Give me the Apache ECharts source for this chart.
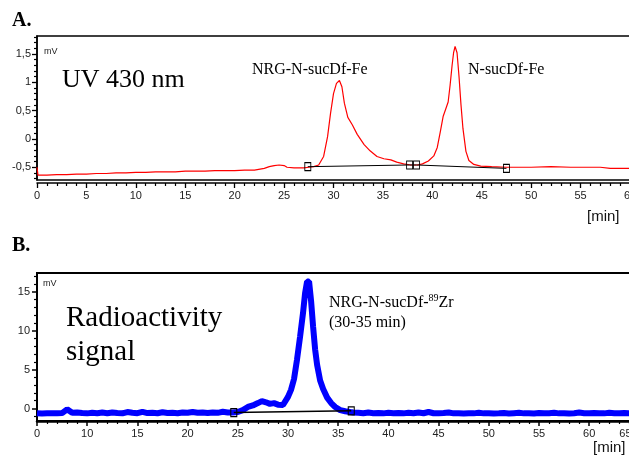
<!DOCTYPE html>
<html><head><meta charset="utf-8">
<script src="https://cdn.jsdelivr.net/npm/echarts@6/dist/echarts.min.js"></script>
<style>html,body{margin:0;padding:0;background:#fff}#c{width:629px;height:456px}</style>
</head><body><div id="c"></div><script>
// ---- Panel A: UV 430 nm trace (time in min, signal in mV) ----
const uvTime = [0,0.1,1,2,3,4,5,6,7,8,9,10,11,12,13,14,15,16,17,18,19,20,21,22,22.2,23,23.5,24,24.5,25,25.3,26,27,27.5,28,28.5,29,29.4,29.7,30.0,30.3,30.6,30.85,31.1,31.45,31.9,32.4,33.1,33.7,34.4,35.1,35.8,36.4,37.1,37.8,38.5,39.0,39.6,40.15,40.5,40.8,41.1,41.4,41.6,41.8,42.0,42.15,42.3,42.5,42.7,42.9,43.1,43.4,43.7,44.2,44.9,46,47.5,50,52,54,55,57,58,59,60];
const uvSignal = [-0.5,-0.64,-0.64,-0.63,-0.63,-0.62,-0.62,-0.61,-0.61,-0.6,-0.6,-0.59,-0.59,-0.58,-0.58,-0.58,-0.57,-0.57,-0.57,-0.56,-0.56,-0.56,-0.55,-0.55,-0.52,-0.52,-0.49,-0.47,-0.46,-0.47,-0.5,-0.51,-0.51,-0.5,-0.49,-0.46,-0.31,0.04,0.45,0.8,0.98,1.03,0.92,0.63,0.38,0.25,0.08,-0.1,-0.21,-0.31,-0.35,-0.37,-0.41,-0.44,-0.46,-0.46,-0.44,-0.39,-0.3,-0.15,0.12,0.4,0.55,0.65,0.95,1.3,1.52,1.63,1.52,1.1,0.6,0.18,-0.22,-0.38,-0.45,-0.48,-0.49,-0.5,-0.5,-0.49,-0.5,-0.5,-0.5,-0.52,-0.52,-0.52];
const uvBaseTime = [27.4, 37.7, 38.4, 47.5];
const uvBaseSignal = [-0.49, -0.46, -0.46, -0.52];
const uvYTicks = [-0.5, 0, 0.5, 1, 1.5];
const uvYMinorTicks = [-0.7,-0.6,-0.4,-0.3,-0.2,-0.1,0.1,0.2,0.3,0.4,0.6,0.7,0.8,0.9,1.1,1.2,1.3,1.4,1.6,1.7,1.8];

// ---- Panel B: radioactivity trace ----
const radTime = [5,5.5,6,6.5,7,7.5,8,8.5,9,9.5,10,10.5,11,11.5,12,12.5,13,13.5,14,14.5,15,15.5,16,16.5,17,17.5,18,18.5,19,19.5,20,20.5,21,21.5,22,22.5,23,23.5,24,24.5,
 25,25.5,26,26.5,27,27.4,27.8,28.2,28.6,29,29.5,30,30.3,30.6,30.9,31.2,31.5,31.7,31.9,32.1,32.3,32.5,32.7,32.9,33.2,33.5,33.9,34.3,34.7,35.2,35.7,36.2,36.5,
 37,37.5,38,38.5,39,39.5,40,40.5,41,41.5,42,42.5,43,43.5,44,44.5,45,45.5,46,46.5,47,47.5,48,48.5,49,49.5,50,50.5,51,51.5,52,52.5,53,53.5,54,54.5,55,55.5,56,56.5,57,57.5,58,58.5,59,59.5,60,60.5,61,61.5,62,62.5,63,63.5,64];
const radSignal = [-0.6,-0.65,-0.62,-0.6,-0.62,-0.58,-0.1,-0.55,-0.5,-0.58,-0.62,-0.55,-0.6,-0.52,-0.6,-0.5,-0.58,-0.62,-0.45,-0.55,-0.6,-0.42,-0.58,-0.55,-0.6,-0.48,-0.58,-0.55,-0.6,-0.5,-0.55,-0.45,-0.55,-0.5,-0.58,-0.5,-0.55,-0.42,-0.5,-0.5,
 -0.45,-0.2,0.2,0.4,0.7,0.95,0.8,0.6,0.7,0.5,0.45,1.5,2.4,3.8,6.3,9.2,12.3,14.8,16.3,16.3,13.8,10.5,7.6,5.6,3.6,2.5,1.4,0.7,0.2,-0.2,-0.35,-0.45,-0.5,
 -0.55,-0.6,-0.52,-0.6,-0.58,-0.62,-0.55,-0.6,-0.58,-0.62,-0.55,-0.6,-0.5,-0.6,-0.45,-0.6,-0.62,-0.58,-0.5,-0.62,-0.6,-0.65,-0.6,-0.62,-0.55,-0.62,-0.6,-0.65,-0.62,-0.58,-0.65,-0.6,-0.55,-0.62,-0.6,-0.65,-0.58,-0.62,-0.6,-0.55,-0.62,-0.6,-0.65,-0.6,-0.52,-0.6,-0.62,-0.58,-0.6,-0.62,-0.55,-0.6,-0.62,-0.58,-0.62];
const radBaseTime = [24.6, 36.3];
const radBaseSignal = [-0.52, -0.3];
const radYTicks = [0, 5, 10, 15];
const radYMinorTicks = [-1,1,2,3,4,6,7,8,9,11,12,13,14,16,17];

const zip = (a, b) => a.map((v, i) => [v, b[i]]);
const SANS = "'Liberation Sans', Arial, sans-serif";
const SERIF = "'Liberation Serif', 'Times New Roman', serif";
const labelCol = '#222';

const chart = echarts.init(document.getElementById('c'), null, {renderer: 'canvas'});
const baseLbl = {fontFamily: SANS, fontSize: 11, color: labelCol};

const option = {
  animation: false,
  backgroundColor: '#fff',
  grid: [
    {left: 37, top: 36, width: 593, height: 144, show: true, borderColor: '#000', borderWidth: 1.5, backgroundColor: 'transparent', outerBoundsMode: 'none', containLabel: false},
    {left: 37, top: 273, width: 602.4, height: 148, show: true, borderColor: '#000', borderWidth: 2, backgroundColor: 'transparent', outerBoundsMode: 'none', containLabel: false}
  ],
  xAxis: [
    {gridIndex: 0, type: 'value', min: 0, max: 60, interval: 5, offset: 3,
     axisLine: {onZero: false, lineStyle: {color: '#000', width: 1.5}},
     axisTick: {length: 5, lineStyle: {color: '#000', width: 1.3}},
     minorTick: {show: true, splitNumber: 5, length: 3, lineStyle: {color: '#000', width: 1.2}},
     axisLabel: Object.assign({margin: 7}, baseLbl),
     splitLine: {show: false}},
    {gridIndex: 1, type: 'value', min: 5, max: 65, interval: 5,
     axisLine: {onZero: false, lineStyle: {color: '#000', width: 2.5}},
     axisTick: {length: 5, lineStyle: {color: '#000', width: 1.5}},
     minorTick: {show: true, splitNumber: 5, length: 3, lineStyle: {color: '#000', width: 1.2}},
     axisLabel: Object.assign({margin: 7, formatter: v => v === 5 ? '0' : (v === 65 ? '{r|65}' : String(v)),
       rich: {r: {fontFamily: SANS, fontSize: 11, color: labelCol, padding: [0, 28, 0, 0]}}}, baseLbl),
     splitLine: {show: false}}
  ],
  yAxis: [
    {gridIndex: 0, type: 'value', min: -0.725, max: 1.815, position: 'left',
     axisLine: {show: true, onZero: false, lineStyle: {color: '#000', width: 1.5}},
     axisTick: {show: true, customValues: uvYTicks, length: 5, lineStyle: {color: '#000', width: 1.3}},
     axisLabel: Object.assign({customValues: uvYTicks, margin: 6, formatter: v => String(v).replace('.', ',')}, baseLbl),
     splitLine: {show: false}},
    {gridIndex: 0, type: 'value', min: -0.725, max: 1.815, position: 'left',
     axisLine: {show: false, onZero: false},
     axisTick: {show: true, customValues: uvYMinorTicks, length: 3, lineStyle: {color: '#000', width: 1.2}},
     axisLabel: {show: false}, splitLine: {show: false}},
    {gridIndex: 1, type: 'value', min: -1.6, max: 17.4, position: 'left',
     axisLine: {show: true, onZero: false, lineStyle: {color: '#000', width: 2}},
     axisTick: {show: true, customValues: radYTicks, length: 5, lineStyle: {color: '#000', width: 1.5}},
     axisLabel: Object.assign({customValues: radYTicks, margin: 7}, baseLbl),
     splitLine: {show: false}},
    {gridIndex: 1, type: 'value', min: -1.6, max: 17.4, position: 'left',
     axisLine: {show: false, onZero: false},
     axisTick: {show: true, customValues: radYMinorTicks, length: 3, lineStyle: {color: '#000', width: 1.2}},
     axisLabel: {show: false}, splitLine: {show: false}}
  ],
  series: [
    {type: 'line', xAxisIndex: 0, yAxisIndex: 0, data: zip(uvTime, uvSignal), showSymbol: false,
     lineStyle: {color: '#ff0000', width: 1.2}, z: 2},
    {type: 'line', xAxisIndex: 0, yAxisIndex: 0, data: zip(uvBaseTime, uvBaseSignal), showSymbol: true,
     symbol: 'rect', symbolSize: [6, 8], lineStyle: {color: '#000', width: 1},
     itemStyle: {color: 'rgba(0,0,0,0)', borderColor: '#000', borderWidth: 1}, z: 3},
    {type: 'line', xAxisIndex: 1, yAxisIndex: 2, data: zip(radTime, radSignal), showSymbol: false,
     lineStyle: {color: '#0000ff', width: 6, join: 'bevel'}, z: 2},
    {type: 'line', xAxisIndex: 1, yAxisIndex: 2, data: zip(radBaseTime, radBaseSignal), showSymbol: true,
     symbol: 'rect', symbolSize: [6, 8], lineStyle: {color: '#000', width: 1.5},
     itemStyle: {color: 'rgba(0,0,0,0)', borderColor: '#000', borderWidth: 1.2}, z: 3}
  ],
  graphic: [
    {type: 'text', left: 12, top: 11, style: {text: 'A.', font: "bold 20px " + SERIF, fill: '#000'}},
    {type: 'text', left: 12, top: 236, style: {text: 'B.', font: "bold 20px " + SERIF, fill: '#000'}},
    {type: 'text', x: 44, y: 52, style: {text: 'mV', font: "9px " + SANS, fill: '#222', verticalAlign: 'middle'}},
    {type: 'text', x: 43, y: 284, style: {text: 'mV', font: "9px " + SANS, fill: '#222', verticalAlign: 'middle'}},
    {type: 'text', x: 62, y: 80, style: {text: 'UV 430 nm', font: "26px " + SERIF, fill: '#000', verticalAlign: 'middle'}},
    {type: 'text', x: 252, y: 70, style: {text: 'NRG-N-sucDf-Fe', font: "16px " + SERIF, fill: '#000', verticalAlign: 'middle'}},
    {type: 'text', x: 468, y: 70, style: {text: 'N-sucDf-Fe', font: "16px " + SERIF, fill: '#000', verticalAlign: 'middle'}},
    {type: 'text', x: 587, y: 217, style: {text: '[min]', font: "15px " + SANS, fill: '#111', verticalAlign: 'middle'}},
    {type: 'text', x: 593, y: 448, style: {text: '[min]', font: "15px " + SANS, fill: '#111', verticalAlign: 'middle'}},
    {type: 'text', x: 66, y: 318, style: {text: 'Radioactivity', font: "29px " + SERIF, fill: '#000', verticalAlign: 'middle'}},
    {type: 'text', x: 66, y: 352, style: {text: 'signal', font: "29px " + SERIF, fill: '#000', verticalAlign: 'middle'}},
    {type: 'text', x: 329, y: 303, style: {text: '{a|NRG-N-sucDf-}{s|89}{a|Zr}', verticalAlign: 'middle', fill: '#000',
      rich: {a: {fontFamily: SERIF, fontSize: 16, lineHeight: 20, fill: '#000'},
             s: {fontFamily: SERIF, fontSize: 10, lineHeight: 10, padding: [0, 0, 10, 0], fill: '#000'}}}},
    {type: 'text', x: 329, y: 323, style: {text: '(30-35 min)', font: "16px " + SERIF, fill: '#000', verticalAlign: 'middle'}}
  ]
};
chart.setOption(option);
</script></body></html>
